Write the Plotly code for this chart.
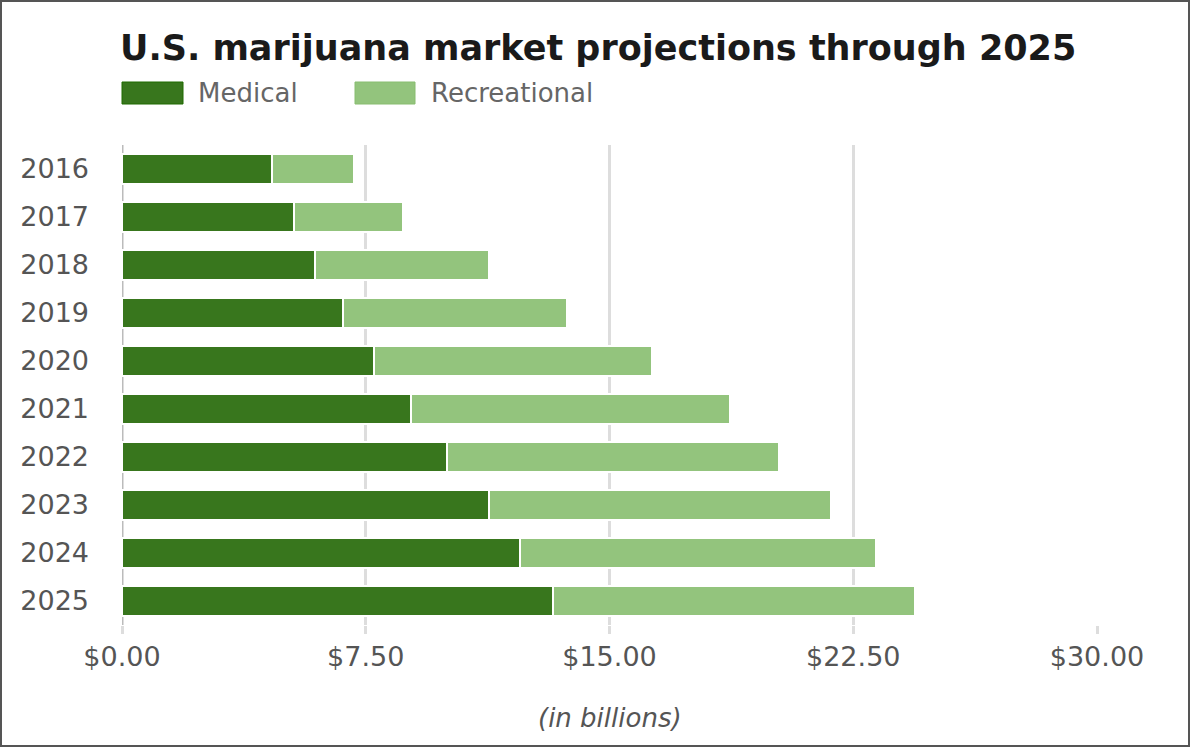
import plotly.graph_objects as go

years = ["2016", "2017", "2018", "2019", "2020", "2021", "2022", "2023", "2024", "2025"]
medical = [4.6, 5.3, 5.95, 6.8, 7.75, 8.9, 10.0, 11.3, 12.25, 13.25]
recreational = [2.55, 3.35, 5.35, 6.9, 8.55, 9.8, 10.2, 10.5, 10.95, 11.15]
x_ticks = [0, 7.5, 15, 22.5, 30]
x_tick_labels = ["$0.00", "$7.50", "$15.00", "$22.50", "$30.00"]

MED = "#38761d"
REC = "#93c47d"
FONT = "DejaVu Sans, Liberation Sans, Arial, sans-serif"

W, H = 1190, 747
L, R, T, B = 122, 93, 145, 122
pw, ph = W - L - R, H - T - B

fig = go.Figure()
fig.add_trace(go.Bar(y=years, x=medical, name="Medical", orientation="h",
                     marker=dict(color=MED, line=dict(color="white", width=2))))
fig.add_trace(go.Bar(y=years, x=recreational, name="Recreational", orientation="h",
                     marker=dict(color=REC, line=dict(color="white", width=2))))


def px(x):
    return (x - L) / pw


def py(y):
    return 1 - (y - T) / ph


shapes = [
    # outer border
    dict(type="rect", xref="paper", yref="paper", x0=px(1), x1=px(W - 1), y0=py(H - 1), y1=py(1),
         line=dict(color="#555555", width=2), fillcolor="rgba(0,0,0,0)", layer="below"),
    # legend swatches
    dict(type="rect", xref="paper", yref="paper", x0=px(122), x1=px(183), y0=py(104), y1=py(82),
         fillcolor=MED, line=dict(color="#1f6a00", width=1)),
    dict(type="rect", xref="paper", yref="paper", x0=px(355), x1=px(415), y0=py(104), y1=py(82),
         fillcolor=REC, line=dict(color="#88bd70", width=1)),
]
annotations = [
    dict(text="Medical", xref="paper", yref="paper", x=px(196), y=py(93), xanchor="left", yanchor="middle",
         showarrow=False, font=dict(family=FONT, size=26, color="#666666")),
    dict(text="Recreational", xref="paper", yref="paper", x=px(429), y=py(93), xanchor="left", yanchor="middle",
         showarrow=False, font=dict(family=FONT, size=26, color="#666666")),
    dict(text="<i>(in billions)</i>", xref="paper", yref="paper", x=0.5, y=py(718), xanchor="center",
         yanchor="middle", showarrow=False, font=dict(family=FONT, size=26, color="#555555")),
]

fig.update_layout(
    width=W, height=H,
    margin=dict(l=L, r=R, t=T, b=B),
    barmode="stack",
    bargap=0.38,
    showlegend=False,
    plot_bgcolor="white",
    paper_bgcolor="white",
    title=dict(text="<b>U.S. marijuana market projections through 2025</b>", x=120 / W, xanchor="left",
               y=1 - 48 / H, yanchor="middle", xref="container", yref="container",
               font=dict(family=FONT, size=35, color="#1a1a1a")),
    shapes=shapes,
    annotations=annotations,
    xaxis=dict(range=[0, 30], tickvals=x_ticks, ticktext=x_tick_labels, showgrid=True,
               gridcolor="#dddddd", gridwidth=3, zeroline=False, ticks="outside", ticklen=8,
               tickcolor="#dddddd", tickwidth=3, showline=False,
               tickfont=dict(family=FONT, size=27, color="#555555")),
    yaxis=dict(autorange="reversed", showgrid=False, zeroline=False, showline=False, ticks="",
               ticklabelstandoff=32, tickfont=dict(family=FONT, size=27, color="#555555")),
)
fig.add_vline(x=0, line=dict(color="#bbbbbb", width=3), layer="below")

fig.write_html("out.html")
